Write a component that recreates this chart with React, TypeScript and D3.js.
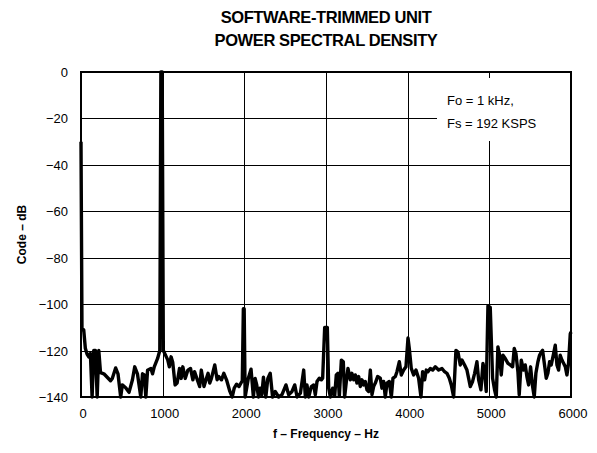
import React from 'react'
import * as d3 from 'd3';

const W = 597;
const H = 453;
const M = { left: 81, right: 571, top: 72, bottom: 397 };

const TITLE = ['SOFTWARE-TRIMMED UNIT', 'POWER SPECTRAL DENSITY'];
const X_TICKS = [0, 1000, 2000, 3000, 4000, 5000, 6000];
const Y_TICKS = [0, -20, -40, -60, -80, -100, -120, -140];
const NOTE = ['Fo = 1 kHz,', 'Fs = 192 KSPS'];

// spectrum: frequency (Hz) and level (dB)
const freqHz = [
  0, 12, 33, 53, 74, 95, 115, 136, 156, 177, 198, 218, 239, 280, 321, 362, 383, 424, 453, 486,
  506, 547, 588, 630, 658, 691, 732, 753, 774, 794, 815, 856, 876, 897, 938, 965, 978, 986, 994, 1008,
  1062, 1082, 1103, 1123, 1152, 1177, 1206, 1226, 1247, 1276, 1309, 1341, 1370, 1391, 1424, 1453, 1473, 1506, 1535, 1556,
  1576, 1597, 1638, 1667, 1687, 1720, 1749, 1782, 1823, 1852, 1876, 1905, 1934, 1975, 1988, 1998, 2010, 2049, 2082, 2111,
  2132, 2152, 2173, 2193, 2214, 2234, 2263, 2288, 2317, 2346, 2378, 2420, 2461, 2510, 2543, 2584, 2617, 2646, 2687, 2727,
  2747, 2767, 2788, 2820, 2849, 2869, 2890, 2918, 2943, 2959, 2984, 3016, 3033, 3053, 3082, 3106, 3126, 3147, 3163, 3188,
  3212, 3228, 3249, 3269, 3298, 3318, 3339, 3359, 3379, 3400, 3420, 3441, 3461, 3481, 3502, 3522, 3543, 3563, 3583, 3604,
  3632, 3665, 3685, 3706, 3726, 3747, 3775, 3800, 3820, 3849, 3869, 3898, 3922, 3951, 3979, 4004, 4020, 4044, 4073, 4102,
  4134, 4163, 4183, 4208, 4228, 4248, 4277, 4306, 4338, 4379, 4420, 4452, 4481, 4510, 4534, 4563, 4591, 4616, 4644, 4665,
  4697, 4726, 4746, 4767, 4795, 4820, 4848, 4869, 4897, 4922, 4942, 4962, 4983, 5011, 5040, 5064, 5085, 5105, 5126, 5146,
  5167, 5195, 5228, 5256, 5285, 5305, 5326, 5350, 5366, 5391, 5419, 5440, 5460, 5481, 5505, 5530, 5550, 5570, 5595, 5615,
  5636, 5652, 5676, 5697, 5717, 5738, 5758, 5787, 5807, 5828, 5848, 5868, 5889, 5909, 5930, 5950, 5970, 5991, 6000,
];
const codeDb = [
  -30, -111, -111, -119, -121.5, -122.7, -121.3, -140, -120, -120, -140, -120, -129.5, -130, -131.5, -133, -132, -127.5, -130, -140,
  -134.8, -136, -138, -132.6, -127, -130, -140, -130, -130.5, -140, -128.5, -127.7, -130, -127, -123.4, -120, 0, -5, 0, -120,
  -124, -127, -122.7, -125, -134.8, -134, -127.7, -132, -127, -132, -128.4, -127.7, -132.6, -129.1, -132.6, -135.5, -128.4, -135.5, -132, -129.8,
  -134, -132, -126.2, -132.6, -131.2, -132.6, -129.8, -132.6, -137.6, -140, -136.2, -134.5, -135.5, -133, -102, -102, -140, -131.9, -128, -140,
  -132, -134.8, -140, -136.2, -139, -131.5, -140, -132, -129.8, -140, -137.6, -140, -139, -134.8, -139, -137.6, -134.8, -140, -138.3, -128.4,
  -140, -134.8, -140, -135.5, -134.8, -139, -133.3, -131.9, -132.6, -131.9, -110, -110, -136.2, -140, -136.2, -139.7, -130.5, -129.8, -139.7, -124.1,
  -124.8, -140, -133.3, -127.7, -132.6, -129.8, -132.6, -130.5, -134, -131.2, -135.5, -132.6, -134.8, -133.3, -136.9, -137.6, -128.4, -139, -135.5, -134,
  -131.2, -131.9, -136.2, -133.3, -140, -134, -133.3, -140, -131.9, -131.2, -129.1, -124.8, -130.5, -128.4, -127, -114.6, -119.1, -127.7, -130.5, -128.4,
  -131.9, -140, -129.1, -132.6, -128.4, -129.1, -127.7, -128.4, -127, -128.4, -127.7, -129.1, -129.8, -131.9, -134.8, -140, -119.9, -120.6, -126.2, -124.1,
  -126.2, -128.4, -131.9, -135.5, -133.3, -129.8, -124.8, -132.6, -136.9, -125.5, -129.1, -137.6, -100.7, -101.4, -131.9, -136.9, -140, -118.4, -122, -130.5,
  -122, -123.4, -125.5, -126.2, -127, -119.1, -121.3, -129.1, -139, -124.1, -128.4, -126.2, -131.2, -134.8, -127, -135.5, -140, -129.8, -124.8, -122,
  -120.6, -119.9, -126.2, -131.9, -129.8, -124.8, -126.2, -121.3, -117.7, -126.2, -128.4, -122, -124.1, -125.5, -126.9, -130.5, -125.5, -112.8, -112,
];

const FONT = '"Liberation Sans", Arial, sans-serif';

const App = () => {
  const x = d3.scaleLinear().domain([0, 6000]).range([M.left, M.right]);
  const y = d3.scaleLinear().domain([-140, 0]).range([M.bottom, M.top]);

  const line = d3.line<number>()
    .x((_, i) => x(freqHz[i]))
    .y(d => y(d));

  const cx = (M.left + M.right) / 2;

  return (
    <svg width={W} height={H} style={{ position: 'absolute', left: 0, top: 0, background: '#fff' }}
      fontFamily={FONT}>
      {/* title */}
      <g fontWeight="bold" fontSize={16.5} textAnchor="middle" letterSpacing={-0.4}>
        {TITLE.map((t, i) => (
          <text key={t} x={326} y={23 + i * 23}>{t}</text>
        ))}
      </g>

      {/* grid */}
      <g stroke="#000" strokeWidth={1}>
        {Y_TICKS.slice(1, -1).map(v => (
          <line key={v} x1={M.left} x2={M.right} y1={Math.round(y(v)) + 0.5} y2={Math.round(y(v)) + 0.5} />
        ))}
        {X_TICKS.slice(1, -1).map(v => (
          <line key={v} x1={Math.round(x(v)) + 0.5} x2={Math.round(x(v)) + 0.5} y1={M.top} y2={M.bottom} />
        ))}
      </g>

      {/* note box */}
      <rect x={437} y={78} width={M.right - 438} height={63} fill="#fff" />
      <g fontSize={13}>
        {NOTE.map((t, i) => (
          <text key={t} x={447} y={105 + i * 23}>{t}</text>
        ))}
      </g>

      {/* spectrum */}
      <path d={line(codeDb) ?? ''} fill="none" stroke="#000" strokeWidth={3.4} strokeLinejoin="round" />

      {/* frame */}
      <rect x={M.left} y={M.top} width={M.right - M.left} height={M.bottom - M.top}
        fill="none" stroke="#000" strokeWidth={2} />

      {/* tick labels */}
      <g fontSize={13} textAnchor="end">
        {Y_TICKS.map(v => (
          <text key={v} x={68} y={y(v) + 5}>{v === 0 ? '0' : `\u2212${-v}`}</text>
        ))}
      </g>
      <g fontSize={13} textAnchor="middle">
        {X_TICKS.map(v => (
          <text key={v} x={x(v) + 2} y={418}>{v}</text>
        ))}
      </g>

      {/* axis titles */}
      <text x={cx} y={438} fontSize={12} fontWeight="bold" textAnchor="middle">f – Frequency – Hz</text>
      <text transform={`translate(26,${(M.top + M.bottom) / 2}) rotate(-90)`} fontSize={12}
        fontWeight="bold" textAnchor="middle">Code – dB</text>
    </svg>
  );
}

export default App;
